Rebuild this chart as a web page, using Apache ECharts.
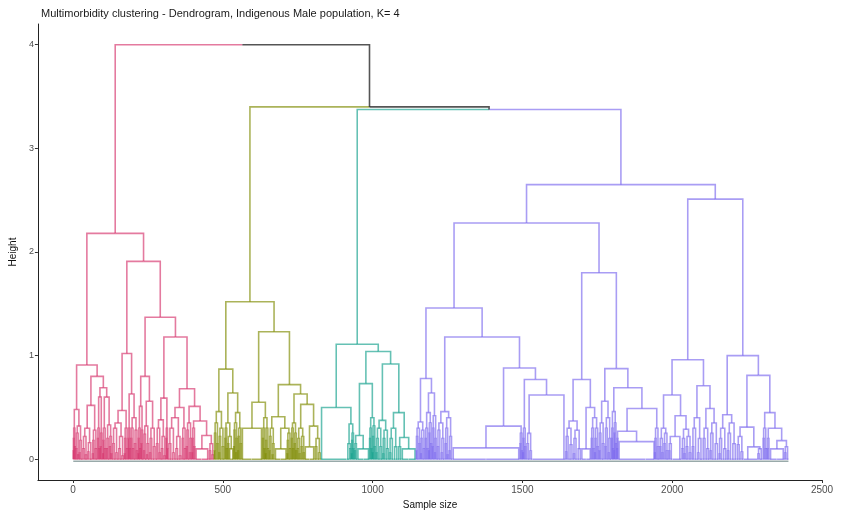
<!DOCTYPE html>
<html>
<head>
<meta charset="utf-8">
<script src="https://cdn.jsdelivr.net/npm/echarts@6/dist/echarts.min.js"></script>
<style>
  html, body { margin: 0; background: #fff; }
  #main { width: 848px; height: 515px; }
</style>
</head>
<body>
<div id="main"></div>
<script>
// heights of the links above the four clusters: root, its right child, then teal+purple
const topHeights = [4.0, 3.40, 3.375];
const clusterColors = ["#D6336C", "#7E8B00", "#13A08C", "#7B68EE", "#2b2b2b"];
const xTicks = [0, 500, 1000, 1500, 2000, 2500];
const yTicks = [0, 1, 2, 3, 4];

// tree nodes: [height, left, right]
// "n/h1/h2/..." = n leaves joined by small merges at those heights
// "n@p" = n leaves merged at height 0, the branch hanging at fraction p of the group
const pinkTree = [2.18,
  [0.91,
    [0.48, "8/.3/.2/.12/.08", "22/.32/.25/.18/.1/.06/.04"],
    [0.80,
      [0.52, "33/.3/.22/.16/.1/.07/.04", "17/.28/.18/.1/.05"],
      [0.69, [0.60, "10/.3/.2/.1", "8/.25/.12"],
        [0.60, "12/.3/.18/.1/.05", [0.33, "10/.2/.1", "10/.22/.12/.05"]]]]],
  [1.91,
    [1.02,
      [0.47, "40/.35/.3/.22/.15/.1/.06/.03", "13/.3/.2/.1/.05"],
      [0.63, "8/.3/.2/.1", [0.40, "12/.3/.2/.1", "13/.28/.15/.08"]]],
    [1.37,
      [0.80, [0.51, "10/.3/.2/.1/.05", "8/.28/.15"],
        [0.56, "20/.32/.24/.15/.08/.04", "22/.3/.2/.12/.06"]],
      [1.18,
        [0.59, "33/.38/.3/.22/.15/.1/.06/.03", "8/.3/.2/.1"],
        [0.68, [0.50, "45/.4/.3/.22/.15/.1/.06/.03", "15/.3/.2/.1"],
          [0.51, "19/.35/.28/.2/.12/.06",
            [0.37, "12/.3/.2/.12/.06",
              [0.23, [0.10, "20@0.1", "24@0.9"], "18/.15/.08/.04"]]]]]]]];

const oliveTree = [1.52,
  [0.87,
    [0.46, "15/.35/.25/.15/.08", "20/.3/.22/.12/.06"],
    [0.64,
      [0.35, "10/.3/.2/.1", [0.22, "6/.15", [0.10, "6@0.2", "8@0.8"]]],
      [0.45, "14/.35/.28/.2/.12/.06", "14/.3/.22/.15/.08"]]],
  [1.23,
    [0.55, [0.30, "33@0.05", "35@0.95"], [0.40, "10/.3/.2/.1", "12/.3/.18/.1/.05"]],
    [0.72,
      [0.41, "20/.3/.22/.15/.08/.04", [0.30, [0.10, "20@0.1", "20@0.9"], "14/.25/.18/.1/.05"]],
      [0.63, [0.35, "10/.3/.2/.1", "10/.25/.15/.08"],
        [0.53, [0.30, "12/.2/.1/.05", "14/.22/.12/.06"],
          [0.32, [0.12, "16@0.1", "16@0.9"], "22/.2/.12/.06"]]]]]];

const tealTree = [1.11,
  [0.50, "85@0.02", [0.34, [0.15, "10@0.5", "6/.1"], "10/.25/.18/.1/.05"]],
  [1.04,
    [0.73, [0.23, "10/.15/.08", [0.10, "22@0.1", "18@0.9"]],
      [0.40, "10/.3/.2/.1", "12/.32/.22/.12/.06"]],
    [0.92,
      [0.375, "22/.3/.2/.12/.06", "22/.28/.2/.1/.05"],
      [0.45, "30/.3/.2/.12/.06", [0.21, "12/.12", [0.10, "24@0.1", "24@0.9"]]]]]];

const purpleTree = [2.65,
  [2.28,
    [1.46,
      [0.78, [0.36, "15/.3/.22/.15/.08", "15/.28/.2/.1/.05"],
        [0.64, [0.45, "12/.3/.2/.1", "12/.35/.25/.15/.08"], "16/.42/.3/.2/.12/.06"]],
      [1.18,
        [0.46, "26/.35/.28/.2/.12/.06", "26/.4/.3/.22/.15/.08/.04"],
        [0.88,
          [0.32, [0.11, "112@0.02", "112@0.98"], "10/.25/.15/.08"],
          [0.77, "12/.3/.2/.12/.06", [0.62, "20/.25/.15/.08", "110@0.97"]]]]],
    [1.80,
      [0.77,
        [0.37, "26/.3/.22/.14/.07", "28/.28/.2/.1/.05"],
        [0.50, [0.10, "16@0.1", "16@0.9"], [0.40, "12/.3/.2/.1", "14/.3/.2/.12/.06"]]],
      [0.875,
        [0.56, "20/.35/.25/.15/.08", "22/.4/.3/.2/.12/.06"],
        [0.69, [0.46, "8/.3/.2/.1", "10/.35/.25/.15/.08"],
          [0.49, [0.27, "6/.2/.1", [0.17, "90@0.02", "30@0.98"]], "16/.3/.2/.12/.06"]]]]],
  [2.51,
    [0.96,
      [0.62, [0.30, "14/.2/.12/.06", "16/.25/.15/.08"],
        [0.42, [0.22, "14/.15/.08", "30@0.85"], [0.29, "14/.2/.1/.05", "20/.22/.12/.06"]]],
      [0.71, "36/.4/.3/.2/.12/.06", [0.49, "24/.3/.2/.1", "30/.35/.25/.15/.08"]]],
    [1.00,
      [0.43, "28/.3/.2/.1/.05", "32/.35/.25/.15/.08"],
      [0.81,
        [0.31, "24/.22/.14/.07", [0.12, "45@0.3", "18/.1/.05"]],
        [0.45, "14/.3/.2/.1", [0.30, "10/.2/.1", [0.18, [0.10, "24@0.1", "24@0.9"], "15/.12/.06"]]]]]]];

// ---- layout: leaves get x = 1..N in order, a node sits midway between its children
const segs = clusterColors.map(() => []);
let cursor = 0;

function join(a, ca, b, cb, h) {
  const mid = (a.x + b.x) / 2;
  segs[ca].push([[a.x, a.h], [a.x, h], [mid, h]]);
  segs[cb].push([[b.x, b.h], [b.x, h], [mid, h]]);
  return { x: mid, h: h };
}

function block(n, p, ci) {
  const x0 = cursor + 1, x1 = cursor + n;
  cursor += n;
  segs[ci].push([[x0, 0], [x1, 0]]);
  return { x: x0 + p * (x1 - x0), h: 0 };
}

function fuzz(n, hs, ci) {
  if (!hs.length || n < 2) return block(n, 0.5, ci);
  const rest = hs.slice(1);
  const nl = Math.ceil(n / 2);
  const l = fuzz(nl, rest.filter((_, i) => i % 2 === 0), ci);
  const r = fuzz(n - nl, rest.filter((_, i) => i % 2 === 1), ci);
  return join(l, ci, r, ci, hs[0]);
}

function place(node, ci) {
  if (typeof node === "number") return block(node, 0.5, ci);
  if (typeof node === "string") {
    if (node.includes("@")) {
      const [n, p] = node.split("@").map(Number);
      return block(n, p, ci);
    }
    const parts = node.split("/").map(Number);
    return fuzz(parts[0], parts.slice(1), ci);
  }
  const l = place(node[1], ci);
  const r = place(node[2], ci);
  return join(l, ci, r, ci, node[0]);
}

const pk = place(pinkTree, 0);
const ol = place(oliveTree, 1);
const te = place(tealTree, 2);
const pu = place(purpleTree, 3);
const tp = join(te, 2, pu, 3, topHeights[2]);
const op = join(ol, 1, tp, 4, topHeights[1]);
join(pk, 0, op, 4, topHeights[0]);
const nLeaves = cursor;

const series = segs.map((list, i) => ({
  type: "lines",
  coordinateSystem: "cartesian2d",
  polyline: true,
  silent: true,
  lineStyle: { color: clusterColors[i], width: 1.6, opacity: i === 4 ? 0.8 : 0.65 },
  data: list.map(c => ({ coords: c })),
  z: i === 4 ? 3 : 2
}));
// leaf labels, too small to read, show as a grey band under the leaves
series.unshift({
  type: "lines",
  coordinateSystem: "cartesian2d",
  polyline: true,
  silent: true,
  lineStyle: { color: "#7f9595", width: 1.5, opacity: 0.8 },
  data: [{ coords: [[1, -0.018], [nLeaves, -0.018]] }],
  z: 1
});

const font = "'Liberation Sans Narrow', 'Liberation Sans', Arial, sans-serif";
const chart = echarts.init(document.getElementById("main"));
chart.setOption({
  animation: false,
  backgroundColor: "#fff",
  title: {
    text: "Multimorbidity clustering - Dendrogram, Indigenous Male population, K= 4",
    left: 36, top: 3,
    textStyle: { fontSize: 11, fontWeight: "normal", color: "#1a1a1a", fontFamily: "'Liberation Sans', Arial, sans-serif" }
  },
  grid: { left: 37, right: 26, top: 24, bottom: 33 },
  xAxis: {
    type: "value", min: -117, max: 2500,
    name: "Sample size", nameLocation: "middle", nameGap: 20,
    nameTextStyle: { fontSize: 10, color: "#111", fontFamily: font },
    axisLine: { onZero: false, lineStyle: { color: "#222", width: 1 } },
    axisTick: { customValues: xTicks, length: 3, lineStyle: { color: "#333" } },
    axisLabel: { customValues: xTicks, formatter: v => String(v), fontSize: 10, color: "#4d4d4d", margin: 5, fontFamily: font },
    splitLine: { show: false }
  },
  yAxis: {
    type: "value", min: -0.2, max: 4.2,
    name: "Height", nameLocation: "middle", nameGap: 16, nameRotate: 90,
    nameTextStyle: { fontSize: 10, color: "#111", fontFamily: font },
    axisLine: { show: true, onZero: false, lineStyle: { color: "#222", width: 1 } },
    axisTick: { show: true, customValues: yTicks, length: 3, lineStyle: { color: "#333" } },
    axisLabel: { customValues: yTicks, formatter: v => String(v), fontSize: 9, color: "#4d4d4d", margin: 4, fontFamily: font },
    splitLine: { show: false }
  },
  series: series
});
</script>
</body>
</html>
